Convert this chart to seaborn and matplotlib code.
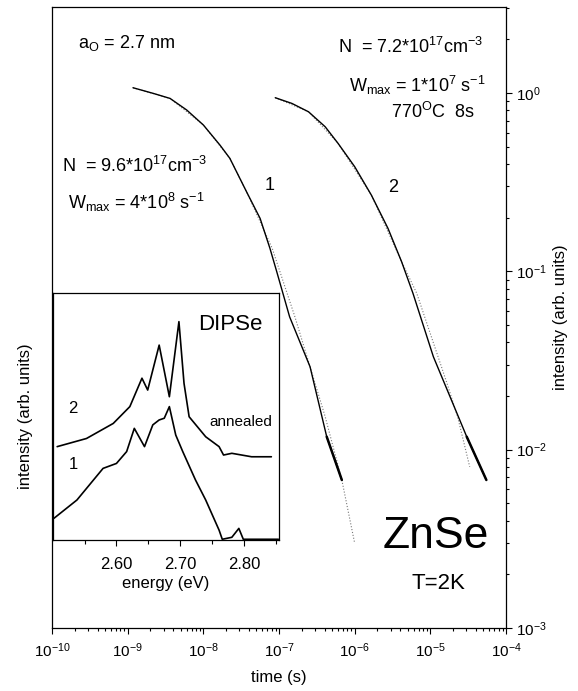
import numpy as np
import pandas as pd
import matplotlib
matplotlib.use("Agg")
import matplotlib.pyplot as plt
import seaborn as sns
from matplotlib.ticker import FixedLocator, LogLocator, NullFormatter

sns.set_style("ticks")
plt.rcParams['font.family'] = ['Liberation Sans', 'DejaVu Sans']
plt.rcParams['mathtext.fontset'] = 'custom'
plt.rcParams['mathtext.rm'] = 'Liberation Sans'
plt.rcParams['mathtext.it'] = 'Liberation Sans'
plt.rcParams['mathtext.bf'] = 'Liberation Sans'
for k in ['text.color', 'axes.labelcolor', 'xtick.color', 'ytick.color', 'axes.edgecolor']:
    plt.rcParams[k] = 'black'

# decay curves, log10(time / s) and log10(intensity)
logt_1 = [-8.93, -8.66, -8.44, -8.22, -8.00, -7.78, -7.65, -7.43, -7.25, -7.12, -7.03,
          -6.86, -6.59, -6.37, -6.17]
logi_1 = [0.030, -0.002, -0.030, -0.095, -0.179, -0.292, -0.366, -0.553, -0.703, -0.871, -1.002,
          -1.255, -1.535, -1.927, -2.170]
logt_2 = [-7.05, -6.83, -6.61, -6.39, -6.22, -6.00, -5.78, -5.56, -5.38, -5.23,
          -4.96, -4.74, -4.52, -4.26]
logi_2 = [-0.026, -0.058, -0.105, -0.189, -0.282, -0.413, -0.572, -0.759, -0.946, -1.123,
          -1.479, -1.703, -1.927, -2.170]

# fitted curves (dotted)
fit_logt_1 = [-8.93, -8.44, -8.00, -7.65, -7.43, -7.09, -6.79, -6.39, -6.17, -6.00]
fit_logi_1 = [0.030, -0.030, -0.179, -0.366, -0.553, -0.871, -1.255, -1.815, -2.170, -2.525]
fit_logt_2 = [-7.05, -6.61, -6.22, -5.78, -5.38, -5.18, -4.78, -4.64, -4.48]
fit_logi_2 = [-0.026, -0.105, -0.282, -0.572, -0.946, -1.123, -1.628, -1.815, -2.096]

# inset spectra
energy_2 = [2.507, 2.553, 2.595, 2.621, 2.640, 2.649, 2.667, 2.683, 2.698, 2.706, 2.714,
            2.740, 2.761, 2.768, 2.781, 2.812, 2.843]
spec_2 = [0.378, 0.411, 0.472, 0.540, 0.655, 0.607, 0.789, 0.580, 0.884, 0.634, 0.499,
          0.418, 0.378, 0.344, 0.351, 0.337, 0.337]
energy_1 = [2.502, 2.538, 2.579, 2.600, 2.616, 2.628, 2.644, 2.657, 2.667, 2.675, 2.683,
            2.693, 2.704, 2.724, 2.740, 2.761, 2.766, 2.781, 2.792, 2.799, 2.854]
spec_1 = [0.088, 0.162, 0.290, 0.310, 0.358, 0.452, 0.378, 0.466, 0.486, 0.493, 0.540,
          0.425, 0.358, 0.243, 0.162, 0.040, 0.003, 0.011, 0.047, 0.003, 0.003]

time_ticks = [1e-10, 1e-9, 1e-8, 1e-7, 1e-6, 1e-5, 1e-4]
energy_ticks = [2.60, 2.70, 2.80]
energy_minor = [2.55, 2.65, 2.75, 2.85]

def to_df(lt, li):
    return pd.DataFrame({'t': 10.0 ** np.array(lt), 'I': 10.0 ** np.array(li)})

fig = plt.figure(figsize=(5.78, 6.91), dpi=100)
ax = fig.add_axes([0.0900, 0.0912, 0.7855, 0.8987])

for lt, li in [(fit_logt_1, fit_logi_1), (fit_logt_2, fit_logi_2)]:
    sns.lineplot(data=to_df(lt, li), x='t', y='I', ax=ax, color='#777777',
                 lw=0.8, linestyle=':', estimator=None)
for lt, li in [(logt_1, logi_1), (logt_2, logi_2)]:
    sns.lineplot(data=to_df(lt, li), x='t', y='I', ax=ax, color='black',
                 lw=1.0, estimator=None)
    sns.lineplot(data=to_df(lt[-2:], li[-2:]), x='t', y='I', ax=ax, color='black',
                 lw=1.8, estimator=None)

ax.set_xscale('log')
ax.set_yscale('log')
ax.set_xlim(1e-10, 1e-4)
ax.set_ylim(1e-3, 3.04)
ax.xaxis.set_major_locator(FixedLocator(time_ticks))
ax.xaxis.set_minor_locator(LogLocator(base=10, subs=np.arange(2, 10), numticks=20))
ax.xaxis.set_minor_formatter(NullFormatter())
ax.yaxis.set_minor_formatter(NullFormatter())
ax.yaxis.tick_right()
ax.yaxis.set_label_position('right')
ax.tick_params(axis='both', which='both', direction='out', labelsize=11, width=0.8)
ax.tick_params(axis='both', which='major', length=4)
ax.tick_params(axis='both', which='minor', length=2.5)
ax.tick_params(axis='x', pad=6)
ax.set_xlabel('time (s)', fontsize=12, labelpad=7)
ax.set_ylabel('intensity (arb. units)', fontsize=12, labelpad=4)
for s in ax.spines.values():
    s.set_linewidth(0.9)

ax.text(0.057, 0.942, r'a$_{\rm O}$ = 2.7 nm', transform=ax.transAxes, fontsize=13, va='center')
ax.text(0.022, 0.744, r'N  = 9.6*10$^{17}$cm$^{-3}$', transform=ax.transAxes, fontsize=13, va='center')
ax.text(0.035, 0.686, r'W$_{\rm max}$ = 4*10$^{8}$ s$^{-1}$', transform=ax.transAxes, fontsize=13, va='center')
ax.text(0.480, 0.713, '1', transform=ax.transAxes, fontsize=13, ha='center', va='center')
ax.text(0.949, 0.936, r'N  = 7.2*10$^{17}$cm$^{-3}$', transform=ax.transAxes, fontsize=13, ha='right', va='center')
ax.text(0.954, 0.874, r'W$_{\rm max}$ = 1*10$^{7}$ s$^{-1}$', transform=ax.transAxes, fontsize=13, ha='right', va='center')
ax.text(0.932, 0.831, r'770$^{\rm O}$C  8s', transform=ax.transAxes, fontsize=13, ha='right', va='center')
ax.text(0.751, 0.709, '2', transform=ax.transAxes, fontsize=13, ha='center', va='center')
ax.text(0.846, 0.147, 'ZnSe', transform=ax.transAxes, fontsize=32, ha='center', va='center')
ax.text(0.852, 0.072, 'T=2K', transform=ax.transAxes, fontsize=16, ha='center', va='center')

# inset
ins = fig.add_axes([0.0912, 0.2185, 0.3915, 0.3575])
sns.lineplot(x=energy_2, y=spec_2, ax=ins, color='black', lw=1.2, estimator=None)
sns.lineplot(x=energy_1, y=spec_1, ax=ins, color='black', lw=1.2, estimator=None)
ins.set_xlim(2.50, 2.855)
ins.set_ylim(0, 1)
ins.set_yticks([])
ins.xaxis.set_major_locator(FixedLocator(energy_ticks))
ins.xaxis.set_minor_locator(FixedLocator(energy_minor))
ins.xaxis.set_major_formatter(plt.FuncFormatter(lambda v, p: f'{v:.2f}'))
ins.tick_params(axis='x', which='both', direction='out', labelsize=12, pad=8, width=0.8)
ins.tick_params(axis='x', which='major', length=4)
ins.tick_params(axis='x', which='minor', length=3)
ins.set_xlabel('energy (eV)', fontsize=12, labelpad=3)
ins.set_ylabel('intensity (arb. units)', fontsize=12)
ins.yaxis.set_label_coords(-0.085, 0.5)
for s in ins.spines.values():
    s.set_linewidth(0.9)
ins.text(0.783, 0.874, 'DIPSe', transform=ins.transAxes, fontsize=16, ha='center', va='center')
ins.text(0.090, 0.534, '2', transform=ins.transAxes, fontsize=12, ha='center', va='center')
ins.text(0.090, 0.304, '1', transform=ins.transAxes, fontsize=12, ha='center', va='center')
ins.text(0.833, 0.479, 'annealed', transform=ins.transAxes, fontsize=11, ha='center', va='center')

fig.savefig('out.png', dpi=100)
